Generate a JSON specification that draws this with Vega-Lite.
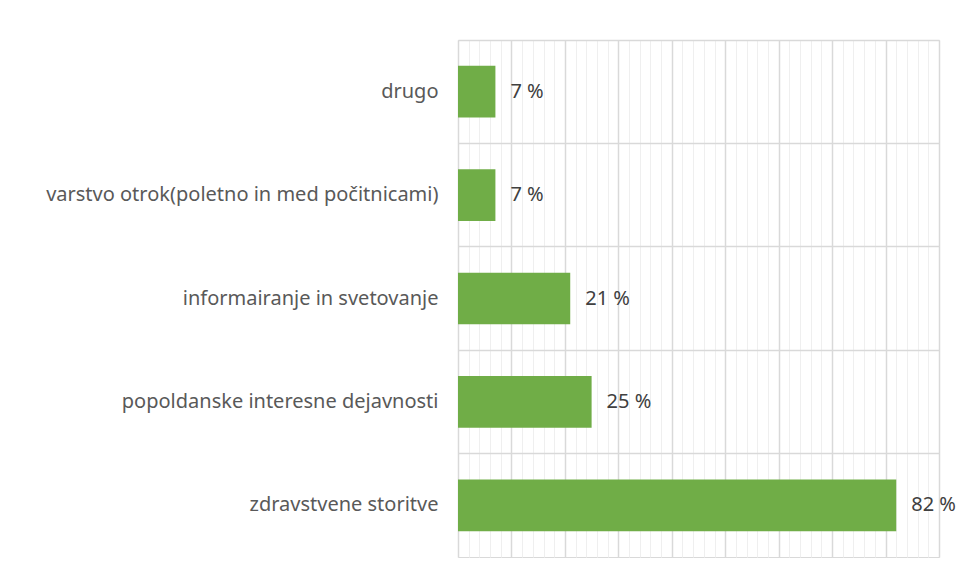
{
  "$schema": "https://vega.github.io/schema/vega-lite/v6.json",
  "width": 481,
  "height": 517,
  "autosize": "none",
  "padding": {"left": 458, "top": 40, "right": 21, "bottom": 24},
  "background": "white",
  "data": {
    "values": [
      {"kategorija": "drugo", "delez": 7},
      {"kategorija": "varstvo otrok(poletno in med počitnicami)", "delez": 7},
      {"kategorija": "informairanje in svetovanje", "delez": 21},
      {"kategorija": "popoldanske interesne dejavnosti", "delez": 25},
      {"kategorija": "zdravstvene storitve", "delez": 82}
    ]
  },
  "transform": [{"calculate": "datum.delez + ' %'", "as": "oznaka"}],
  "config": {
    "view": {"stroke": "#d9d9d9", "strokeWidth": 1},
    "font": "Noto Sans"
  },
  "encoding": {
    "y": {
      "field": "kategorija",
      "type": "nominal",
      "sort": null,
      "scale": {"paddingInner": 0, "paddingOuter": 0},
      "axis": {
        "title": null,
        "domain": false,
        "ticks": false,
        "bandPosition": 0,
        "grid": true,
        "gridColor": "#d9d9d9",
        "gridWidth": 1.5,
        "labelFont": "Noto Sans",
        "labelFontSize": 20,
        "labelColor": "#595959",
        "labelPadding": 20,
        "labelLimit": 500
      }
    },
    "x": {
      "field": "delez",
      "type": "quantitative",
      "scale": {"domain": [0, 90], "nice": false},
      "axis": {
        "title": null,
        "domain": false,
        "ticks": false,
        "labels": false,
        "values": [0,2,4,6,8,10,12,14,16,18,20,22,24,26,28,30,32,34,36,38,40,42,44,46,48,50,52,54,56,58,60,62,64,66,68,70,72,74,76,78,80,82,84,86,88,90],
        "grid": true,
        "gridColor": {"condition": {"test": "datum.value % 10 === 0", "value": "#d9d9d9"}, "value": "#efefef"},
        "gridWidth": {"condition": {"test": "datum.value % 10 === 0", "value": 1.5}, "value": 1}
      }
    }
  },
  "layer": [
    {
      "mark": {"type": "bar", "color": "#70ad47", "height": {"band": 0.5}}
    },
    {
      "mark": {"type": "text", "align": "left", "dx": 15, "fontSize": 20, "color": "#404040", "font": "Noto Sans"},
      "encoding": {
        "text": {"field": "oznaka", "type": "nominal"}
      }
    }
  ]
}
